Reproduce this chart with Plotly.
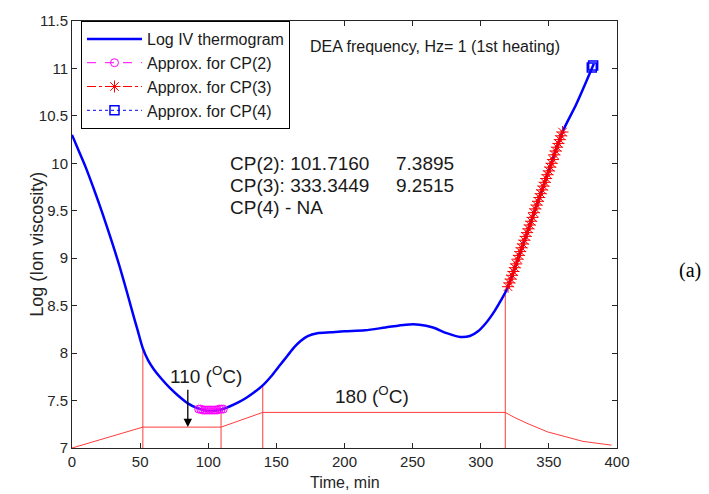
import plotly.graph_objects as go

# Main thermogram (Log IV)
curve_x = [0, 5, 10, 15, 20, 25, 30, 35, 40, 45, 48, 52, 56, 60, 65, 72, 78, 85, 92, 100, 108,
           116, 122, 128, 134, 140, 147, 153, 158, 163, 168, 173, 180, 190, 200, 215, 230, 245,
           255, 265, 275, 285, 292, 298, 304, 310, 315, 320, 340, 360, 370, 383]
curve_y = [10.30, 10.13, 9.96, 9.77, 9.57, 9.36, 9.14, 8.91, 8.66, 8.40, 8.25, 8.05, 7.92, 7.83,
           7.74, 7.63, 7.55, 7.47, 7.42, 7.39, 7.40, 7.44, 7.48, 7.53, 7.59, 7.66, 7.77, 7.88,
           7.97, 8.06, 8.13, 8.18, 8.21, 8.22, 8.23, 8.24, 8.27, 8.30, 8.30, 8.27, 8.21, 8.17,
           8.18, 8.23, 8.32, 8.44, 8.56, 8.70, 9.51, 10.33, 10.62, 11.05]

# Approximation points
cp2_x = [93, 94.5, 96, 97.5, 99, 100.5, 102, 103.5, 105, 106.5, 108, 109.5, 111]
cp2_y = [7.41, 7.41, 7.40, 7.40, 7.40, 7.40, 7.40, 7.40, 7.40, 7.40, 7.41, 7.41, 7.41]

cp3_x = [320, 321, 322, 323, 324, 325, 326, 327, 328, 329, 330, 331, 332, 333, 334, 335, 336,
         337, 338, 339, 340, 341, 342, 343, 344, 345, 346, 347, 348, 349, 350, 351, 352, 353,
         354, 355, 356, 357, 358, 359, 360]
cp3_y = [8.70, 8.74, 8.78, 8.82, 8.86, 8.90, 8.94, 8.99, 9.03, 9.07, 9.11, 9.15, 9.19, 9.23,
         9.27, 9.31, 9.35, 9.39, 9.43, 9.48, 9.52, 9.56, 9.60, 9.64, 9.68, 9.72, 9.76, 9.80,
         9.84, 9.88, 9.92, 9.96, 10.00, 10.04, 10.09, 10.13, 10.17, 10.21, 10.25, 10.29, 10.33]

cp4_x = [381.5, 382.5]
cp4_y = [11.01, 11.03]

# Temperature profile (red)
temp_x = [0, 52, 109.4, 140, 318, 325, 334, 349, 362, 375, 396]
temp_y = [7.0, 7.22, 7.22, 7.375, 7.375, 7.32, 7.26, 7.17, 7.12, 7.07, 7.03]

# Vertical markers (x, top y)
vline_x = [52, 109.4, 140, 318]
vline_top = [8.03, 7.40, 7.66, 8.62]

cp_text_left = ["CP(2): 101.7160", "CP(3): 333.3449", "CP(4) - NA"]
cp_text_right = ["7.3895", "9.2515", ""]
cp_text_y = [9.994, 9.765, 9.536]

x_ticks = [0, 50, 100, 150, 200, 250, 300, 350, 400]
y_ticks = [7, 7.5, 8, 8.5, 9, 9.5, 10, 10.5, 11, 11.5]

FONT = "Liberation Sans, Arial, sans-serif"
RED = "#ff3b3b"
TXT = "#1a1a1a"

fig = go.Figure()

# Temperature profile
fig.add_trace(go.Scatter(x=temp_x, y=temp_y, mode="lines", line=dict(color=RED, width=1),
                         showlegend=False, hoverinfo="skip"))
vx, vy = [], []
for xv, tv in zip(vline_x, vline_top):
    vx += [xv, xv, None]
    vy += [7.0, tv, None]
fig.add_trace(go.Scatter(x=vx, y=vy, mode="lines", line=dict(color=RED, width=1),
                         showlegend=False, hoverinfo="skip"))

fig.add_trace(go.Scatter(x=curve_x, y=curve_y, mode="lines", name="Log IV thermogram",
                         line=dict(color="#0000ff", width=2.5, shape="spline", smoothing=0.8)))
fig.add_trace(go.Scatter(x=cp2_x, y=cp2_y, mode="lines+markers", name="Approx. for CP(2)",
                         line=dict(color="#ff00ff", width=1, dash="dash"),
                         marker=dict(symbol="circle-open", size=8, color="#ff00ff",
                                     line=dict(color="#ff00ff", width=1))))
fig.add_trace(go.Scatter(x=cp3_x, y=cp3_y, mode="lines+markers", name="Approx. for CP(3)",
                         line=dict(color="#ff0000", width=1, dash="dashdot"),
                         marker=dict(symbol="asterisk-open", size=10, color="#ff0000",
                                     line=dict(color="#ff0000", width=1))))
fig.add_trace(go.Scatter(x=cp4_x, y=cp4_y, mode="lines+markers", name="Approx. for CP(4)",
                         line=dict(color="#0000ff", width=1, dash="dot"),
                         marker=dict(symbol="square-open", size=9, color="#0000ff",
                                     line=dict(color="#0000ff", width=1.5))))

annotations = []
for lt, rt, yv in zip(cp_text_left, cp_text_right, cp_text_y):
    annotations.append(dict(x=114.5, y=yv, xref="x", yref="y", text=lt, showarrow=False,
                            xanchor="left", yanchor="middle",
                            font=dict(family=FONT, size=19, color=TXT)))
    if rt:
        annotations.append(dict(x=236.5, y=yv, xref="x", yref="y", text=rt, showarrow=False,
                                xanchor="left", yanchor="middle",
                                font=dict(family=FONT, size=19, color=TXT)))

annotations += [
    dict(x=173.2, y=11.23, xref="x", yref="y", text="DEA frequency, Hz= 1 (1st heating)",
         showarrow=False, xanchor="left", yanchor="middle",
         font=dict(family=FONT, size=16, color=TXT)),
    dict(x=98.1, y=7.77, xref="x", yref="y", text="110 (<sup>O</sup>C)", showarrow=False,
         xanchor="center", yanchor="middle", font=dict(family=FONT, size=19, color=TXT)),
    dict(x=220.2, y=7.56, xref="x", yref="y", text="180 (<sup>O</sup>C)", showarrow=False,
         xanchor="center", yanchor="middle", font=dict(family=FONT, size=19, color=TXT)),
    dict(x=85, y=7.22, ax=85, ay=7.63, xref="x", yref="y", axref="x", ayref="y", text="",
         showarrow=True, arrowhead=2, arrowsize=1.3, arrowwidth=1.3, arrowcolor="black"),
    dict(x=1.134, y=0.415, xref="paper", yref="paper", text="(a)", showarrow=False,
         xanchor="center", yanchor="middle",
         font=dict(family="Liberation Serif, Times New Roman, serif", size=20, color="black")),
    # axis titles
    dict(x=0.5, y=-0.081, xref="paper", yref="paper", text="Time, min", showarrow=False,
         xanchor="center", yanchor="middle", font=dict(family=FONT, size=16, color="#262626")),
    dict(x=-0.0633, y=0.477, xref="paper", yref="paper", text="Log (Ion viscosity)",
         showarrow=False, textangle=-90, xanchor="center", yanchor="middle",
         font=dict(family=FONT, size=18, color="#262626")),
]

axis_common = dict(showline=True, linecolor="#262626", linewidth=1, mirror="ticks",
                   ticks="inside", ticklen=5, tickcolor="#262626", showgrid=False,
                   zeroline=False, tickfont=dict(family=FONT, size=15, color="#262626"))

fig.update_layout(
    width=709, height=494,
    margin=dict(l=72, r=92, t=15, b=46),
    paper_bgcolor="white", plot_bgcolor="white",
    xaxis=dict(range=[0, 400], tickvals=x_ticks, **axis_common),
    yaxis=dict(range=[7, 11.5], tickvals=y_ticks, **axis_common),
    legend=dict(x=0.0165, y=1.0, xanchor="left", yanchor="top", bgcolor="white",
                bordercolor="black", borderwidth=1, itemwidth=55,
                font=dict(family=FONT, size=16, color=TXT), tracegroupgap=0),
    annotations=annotations,
    showlegend=True,
)

fig.write_html("out.html", config={"displayModeBar": False},
               post_script="document.body.style.margin='0px';")
